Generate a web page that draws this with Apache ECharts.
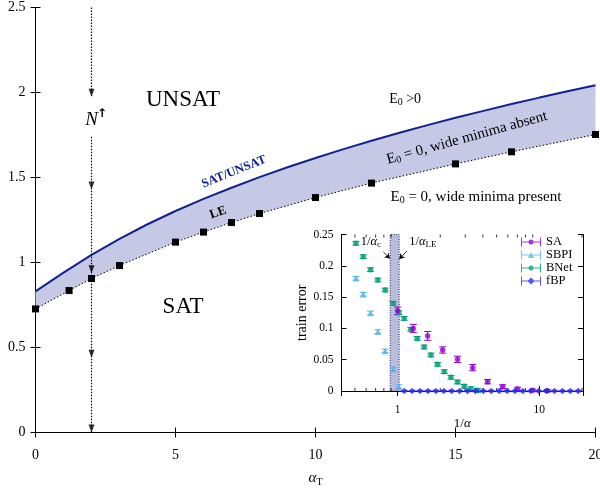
<!DOCTYPE html>
<html><head><meta charset="utf-8">
<script src="https://cdn.jsdelivr.net/npm/echarts@6/dist/echarts.min.js"></script>
<style>html,body{margin:0;padding:0;background:#fff}#c{width:600px;height:489px}</style>
</head><body><div id="c"></div>
<script>
// ---------- main panel data ----------
const satX = [0,1,2,3,4,5,6,7,8,9,10,11,12,13,14,15,16,17,18,19,20];
const satY = [0.83,0.94,1.045,1.139,1.225,1.303,1.374,1.44,1.502,1.56,1.615,1.667,1.716,1.763,1.808,1.851,1.892,1.932,1.97,2.007,2.043];
const leX = [0,1.2,2,3,5,6,7,8,10,12,15,17,20];
const leY = [0.727,0.835,0.906,0.982,1.12,1.179,1.235,1.288,1.382,1.467,1.58,1.651,1.753];
const nX = 2;
const nUpper = [2.5,1.975];
const nLower = [1.74,0];
const nArrowTips = [1.975,1.43,0.937,0.44,0];
// ---------- inset data ----------
const saX = [1.0,1.29,1.63,2.08,2.65,3.39,4.32,5.52,7.03,8.97,11.4];
const saY = [0.128,0.100,0.088,0.0655,0.0506,0.0373,0.0149,0.0069,0.003,0.001,0.0005];
const saErr = [0.006,0.0064,0.007,0.005,0.005,0.005,0.0035,0.003,0.003,0.002,0.002];
const sbpiX = [0.508,0.572,0.644,0.726,0.817,0.931,1.02];
const sbpiY = [0.180,0.1545,0.1246,0.0948,0.0639,0.0351,0.0069];
const sbpiErr = [0.003,0.003,0.003,0.003,0.003,0.003,0.003];
const bnetX = [0.508,0.572,0.644,0.726,0.817,0.931,1.02,1.113,1.24,1.376,1.54,1.72,1.916,2.135,2.38,2.65,2.95,3.29,3.67];
const bnetY = [0.236,0.2146,0.1938,0.1773,0.1613,0.140,0.125,0.116,0.0985,0.084,0.0703,0.0575,0.0426,0.0309,0.0218,0.0144,0.0075,0.0037,0.001];
const bnetErr = [0.003,0.003,0.003,0.003,0.003,0.003,0.003,0.003,0.003,0.003,0.003,0.003,0.003,0.003,0.003,0.003,0.003,0.003,0.003];
const fbpX = [1.114,1.267,1.441,1.638,1.863,2.118,2.409,2.739,3.114,3.542,4.027,4.58,5.207,5.922,6.734,7.656,8.707,9.90,11.26,12.80,14.55,16.55,18.82];
const fbpY = [0,0,0,0,0,0,0,0,0,0,0,0,0,0,0,0,0,0,0,0,0,0,0];
const fbpErr = [0.001,0.001,0.001,0.001,0.001,0.001,0.001,0.001,0.001,0.001,0.001,0.001,0.001,0.001,0.001,0.001,0.001,0.001,0.001,0.001,0.001,0.001,0.001];
const insetMinorTicks = [0.5,0.6,0.7,0.8,0.9,2,3,4,5,6,7,8,9,20];
const bandRange = [0.887,1.026];
const legendNames = ['SA','SBPI','BNet','fBP'];

const FONT = 'Liberation Serif';
const NAVY = '#13228c';
const C = {SA:'#9400d3', SBPI:'#56b4e9', BNet:'#009e73', fBP:'#2a2aee'};

const zip = (a,b,c) => a.map((v,i)=> c ? [v,b[i],c[i]] : [v,b[i]]);

function errRender(color){
  return function(params, api){
    const x = api.value(0), y = api.value(1), e = api.value(2);
    const hi = api.coord([x, y+e]), lo = api.coord([x, y-e]);
    const w = 3.5;
    const st = {stroke: color, lineWidth: 1, fill: null};
    return {type:'group', children:[
      {type:'line', shape:{x1:hi[0],y1:hi[1],x2:lo[0],y2:lo[1]}, style:st},
      {type:'line', shape:{x1:hi[0]-w,y1:hi[1],x2:hi[0]+w,y2:hi[1]}, style:st},
      {type:'line', shape:{x1:lo[0]-w,y1:lo[1],x2:lo[0]+w,y2:lo[1]}, style:st}
    ]};
  };
}

const mainLabel = {fontFamily: FONT, fontSize: 14, color: '#000'};
const insetLabel = {fontFamily: FONT, fontSize: 11.5, color: '#000'};
const blk = {color:'#000', width:1};

const iconCircle = 'path://M0,0h1v9h-1z M19,0h1v9h-1z M0,4h20v1h-20z M7.5,4.5a2.5,2.5 0 1,1 5,0a2.5,2.5 0 1,1 -5,0z';
const iconTri = 'path://M0,0h1v9h-1z M19,0h1v9h-1z M0,4h20v1h-20z M10,1.5L13,7.5L7,7.5z';
const iconDia = 'path://M0,0h1v9h-1z M19,0h1v9h-1z M0,4h20v1h-20z M10,1L13.5,4.5L10,8L6.5,4.5z';

const option = {
  animation: false,
  backgroundColor: '#fff',
  grid: [
    {left: 35.5, top: 7.5, width: 560, height: 425, containLabel:false, outerBoundsMode:'none'},
    {left: 341.5, top: 234.5, width: 241.5, height: 156.5, containLabel:false, outerBoundsMode:'none'}
  ],
  xAxis: [
    {gridIndex:0, type:'value', min:0, max:20, interval:5, position:'bottom',
     axisLine:{lineStyle:blk}, axisTick:{inside:true, length:5, lineStyle:blk},
     axisLabel:Object.assign({margin:16}, mainLabel), splitLine:{show:false},
     name:'{a|α}{b|T}', nameLocation:'middle', nameGap:37,
     nameTextStyle:{rich:{a:{fontFamily:FONT, fontStyle:'italic', fontSize:15, color:'#000'},
                          b:{fontFamily:FONT, fontSize:10, color:'#000', padding:[8,0,0,0]}}}},
    {gridIndex:0, type:'value', min:0, max:20, interval:5, position:'top',
     axisLine:{lineStyle:blk}, axisTick:{inside:true, length:5, lineStyle:blk},
     axisLabel:{show:false}, splitLine:{show:false}},
    {gridIndex:1, type:'log', logBase:10, min:0.402, max:20.35, position:'bottom',
     axisLine:{lineStyle:blk}, axisTick:{inside:true, length:5, lineStyle:blk},
     axisLabel:Object.assign({margin:13, showMinLabel:false, showMaxLabel:false,
       formatter: v => (Math.abs(v-1)<1e-6 ? '1' : (Math.abs(v-10)<1e-6 ? '10' : ''))}, insetLabel),
     splitLine:{show:false},
     name:'1/{i|α}', nameLocation:'middle', nameGap:17,
     nameTextStyle:{fontFamily:FONT, fontSize:13, color:'#000', rich:{i:{fontFamily:FONT, fontStyle:'italic', fontSize:13, color:'#000'}}}},
    {gridIndex:1, type:'log', logBase:10, min:0.402, max:20.35, position:'top',
     axisLine:{lineStyle:blk}, axisTick:{inside:true, length:5, lineStyle:blk},
     axisLabel:{show:false}, splitLine:{show:false}}
  ],
  yAxis: [
    {gridIndex:0, type:'value', min:0, max:2.5, interval:0.5, position:'left',
     axisLine:{show:true, lineStyle:blk}, axisTick:{show:true, inside:true, length:5, lineStyle:blk},
     axisLabel:Object.assign({margin:10}, mainLabel), splitLine:{show:false}},
    {gridIndex:0, type:'value', min:0, max:2.5, interval:0.5, position:'right',
     axisLine:{show:true, lineStyle:blk}, axisTick:{show:true, inside:true, length:5, lineStyle:blk},
     axisLabel:{show:false}, splitLine:{show:false}},
    {gridIndex:1, type:'value', min:0, max:0.25, interval:0.05, position:'left',
     axisLine:{show:true, lineStyle:blk}, axisTick:{show:true, inside:true, length:5, lineStyle:blk},
     axisLabel:Object.assign({margin:8}, insetLabel), splitLine:{show:false},
     name:'train error', nameLocation:'middle', nameGap:27, nameRotate:90,
     nameTextStyle:{fontFamily:FONT, fontSize:14, color:'#000'}},
    {gridIndex:1, type:'value', min:0, max:0.25, interval:0.05, position:'right',
     axisLine:{show:true, lineStyle:blk}, axisTick:{show:true, inside:true, length:5, lineStyle:blk},
     axisLabel:{show:false}, splitLine:{show:false}}
  ],
  legend: {
    data: legendNames.map((n,i)=>({name:n, icon: n==='SBPI'?iconTri:(n==='fBP'?iconDia:iconCircle)})),
    orient:'vertical', left:516, top:230.5, padding:5, itemWidth:20, itemHeight:9, itemGap:0,
    selectedMode:false, textStyle:{fontFamily:FONT, fontSize:12.5, color:'#000', lineHeight:12.3}
  },
  series: [
    // band fill between SAT/UNSAT and LE
    {type:'custom', xAxisIndex:0, yAxisIndex:0, z:1, silent:true, data:[[0,0]],
     renderItem:(params, api)=>{
       const pts=[];
       for(let i=0;i<satX.length;i++) pts.push(api.coord([satX[i],satY[i]]));
       for(let i=leX.length-1;i>=0;i--) pts.push(api.coord([leX[i],leY[i]]));
       return {type:'polygon', shape:{points:pts}, style:{fill:'#c5c9e5'}};
     }},
    {name:'SAT/UNSAT', type:'line', xAxisIndex:0, yAxisIndex:0, z:3, data:zip(satX,satY),
     showSymbol:false, lineStyle:{color:NAVY, width:2}, silent:true},
    {name:'LE', type:'line', xAxisIndex:0, yAxisIndex:0, z:4, data:zip(leX,leY),
     symbol:'rect', symbolSize:7, itemStyle:{color:'#000'},
     lineStyle:{color:'#000', width:1, type:[1.5,2]}, silent:true},
    {type:'line', xAxisIndex:0, yAxisIndex:0, z:4, data:[[nX,nUpper[0]],[nX,nUpper[1]]],
     showSymbol:false, lineStyle:{color:'#000', width:1.2, type:[1.5,1.5]}, silent:true},
    {type:'line', xAxisIndex:0, yAxisIndex:0, z:4, data:[[nX,nLower[0]],[nX,nLower[1]]],
     showSymbol:false, lineStyle:{color:'#000', width:1.2, type:[1.5,1.5]}, silent:true},
    {type:'scatter', xAxisIndex:0, yAxisIndex:0, z:5, data:nArrowTips.map(y=>[nX,y]),
     symbol:'path://M0,0L10,0L5,12z', symbolSize:[6,8], symbolOffset:[0,-4],
     itemStyle:{color:'#000'}, silent:true, clip:false},
    // inset helper: band + arrows + minor ticks
    {type:'scatter', xAxisIndex:2, yAxisIndex:2, z:2, silent:true, clip:false,
     data:insetMinorTicks.map(v=>[v,0]), symbol:'rect', symbolSize:[1,3], symbolOffset:[0,-1.5],
     itemStyle:{color:'#000'},
     markArea:{silent:true, itemStyle:{color:'#b8bde0', borderColor:'#222', borderWidth:1, borderType:[1,1.5]},
       data:[[{xAxis:bandRange[0]},{xAxis:bandRange[1]}]]},
     markLine:{silent:true, symbol:['none','arrow'], symbolSize:5, label:{show:false},
       lineStyle:{color:'#000', width:0.8, type:'solid'},
       data:[[{coord:[0.794,0.222]},{coord:[0.882,0.2117]}],[{coord:[1.163,0.2236]},{coord:[1.03,0.2109]}]]}},
    {type:'scatter', xAxisIndex:2, yAxisIndex:2, z:2, silent:true, clip:false,
     data:insetMinorTicks.map(v=>[v,0.25]), symbol:'rect', symbolSize:[1,3], symbolOffset:[0,1.5],
     itemStyle:{color:'#000'}},
    // error bars
    {name:'BNet_err', type:'custom', xAxisIndex:2, yAxisIndex:2, z:4, data:zip(bnetX,bnetY,bnetErr), renderItem:errRender(C.BNet), silent:true},
    {name:'SBPI_err', type:'custom', xAxisIndex:2, yAxisIndex:2, z:4, data:zip(sbpiX,sbpiY,sbpiErr), renderItem:errRender(C.SBPI), silent:true},
    {name:'SA_err', type:'custom', xAxisIndex:2, yAxisIndex:2, z:4, data:zip(saX,saY,saErr), renderItem:errRender(C.SA), silent:true},
    {name:'fBP_err', type:'custom', xAxisIndex:2, yAxisIndex:2, z:6, data:zip(fbpX,fbpY,fbpErr), renderItem:errRender(C.fBP), silent:true},
    // markers
    {name:'BNet', type:'scatter', xAxisIndex:2, yAxisIndex:2, z:5, data:zip(bnetX,bnetY), symbol:'circle', symbolSize:5.5, itemStyle:{color:C.BNet}, clip:false, silent:true},
    {name:'SBPI', type:'scatter', xAxisIndex:2, yAxisIndex:2, z:5, data:zip(sbpiX,sbpiY), symbol:'triangle', symbolSize:6.5, itemStyle:{color:C.SBPI}, clip:false, silent:true},
    {name:'SA', type:'scatter', xAxisIndex:2, yAxisIndex:2, z:5, data:zip(saX,saY), symbol:'circle', symbolSize:5.5, itemStyle:{color:C.SA}, clip:false, silent:true},
    {name:'fBP', type:'scatter', xAxisIndex:2, yAxisIndex:2, z:7, data:zip(fbpX,fbpY), symbol:'diamond', symbolSize:6.5, itemStyle:{color:C.fBP}, clip:false, silent:true}
  ]
};

const chart = echarts.init(document.getElementById('c'), null, {renderer:'canvas'});
chart.setOption(option);

const P = (g, pt) => chart.convertToPixel({gridIndex:g}, pt);
function txt(g, pt, text, style, rotDeg){
  const p = P(g, pt);
  return {type:'text', x:p[0], y:p[1], rotation:(rotDeg||0)*Math.PI/180, z:20, silent:true,
    style:Object.assign({text:text, align:'center', verticalAlign:'middle', fill:'#000', fontFamily:FONT}, style)};
}
const subRich = (size) => ({s:{fontFamily:FONT, fontSize:size, fill:'#000', padding:[6,0,0,0]}});
const alphaRich = {i:{fontFamily:FONT, fontStyle:'italic', fontSize:12.5, fill:'#000'}, s:{fontFamily:FONT, fontSize:9, fill:'#000', padding:[5,0,0,0]}};
chart.setOption({graphic:[
  txt(0,[5.27,1.957],'UNSAT',{fontSize:23}),
  txt(0,[5.27,0.74],'SAT',{fontSize:23}),
  txt(0,[13.2,1.957],'E{s|0} >0',{fontSize:14, rich:subRich(10)}),
  txt(0,[15.41,1.733],'E{s|0} = 0, wide minima absent',{fontSize:15, rich:subRich(10)},15.5),
  txt(0,[15.73,1.385],'E{s|0} = 0, wide minima present',{fontSize:15, rich:subRich(10)}),
  txt(0,[7.09,1.533],'SAT/UNSAT',{fontSize:12.5, fontWeight:'bold', fill:NAVY},22),
  txt(0,[6.52,1.293],'LE',{fontSize:12.5, fontWeight:'bold'},20),
  txt(0,[2.0,1.84],'N',{fontSize:19, fontStyle:'italic'}),
  txt(0,[2.38,1.875],'↑',{fontSize:12, fontFamily:'DejaVu Sans', fontWeight:'bold'}),
  txt(1,[0.648,0.238],'1/{i|α}{s|c}',{fontSize:12.5, rich:alphaRich}),
  txt(1,[1.51,0.238],'1/{i|α}{s|LE}',{fontSize:12.5, rich:alphaRich})
]});
</script>
</body></html>
